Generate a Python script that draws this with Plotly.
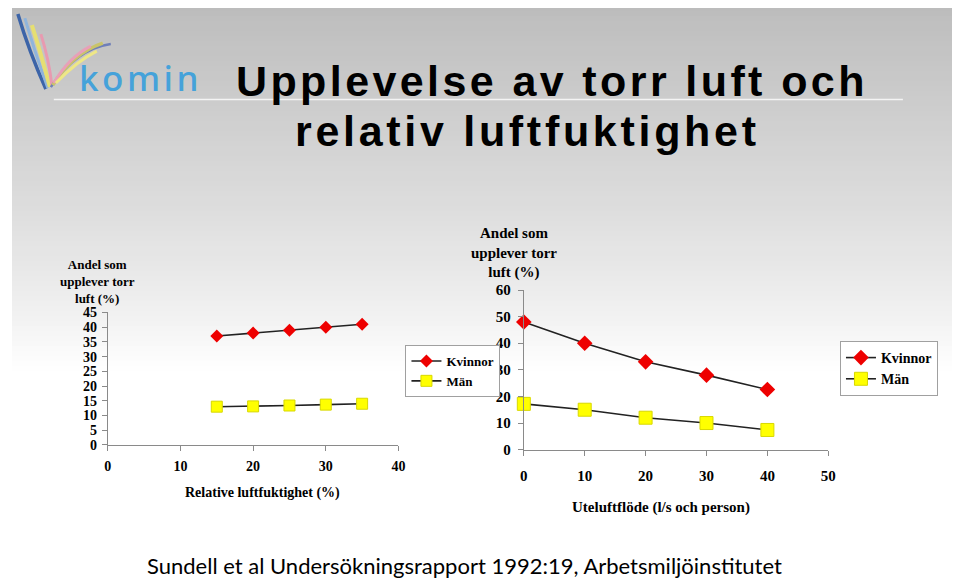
import plotly.graph_objects as go

# ---------------- data ----------------
rh_x = [15, 20, 25, 30, 35]
rh_kvinnor = [37, 38, 39, 40, 41]
rh_man = [13, 13.1, 13.4, 13.7, 14]

flow_x = [0, 10, 20, 30, 40]
flow_kvinnor = [48, 40, 33, 28, 22.6]
flow_man = [17.2, 15, 12, 10, 7.4]

series_names = ["Kvinnor", "Män"]
title_line1 = "Upplevelse av torr luft och"
title_line2 = "relativ luftfuktighet"
left_ytitle = "Andel som<br>upplever torr<br>luft (%)"
left_xtitle = "Relative luftfuktighet (%)"
right_ytitle = "Andel som<br>upplever torr<br>luft (%)"
right_xtitle = "Uteluftflöde (l/s och person)"
footer = "Sundell et al Undersökningsrapport 1992:19, Arbetsmiljöinstitutet"
logo_text = "komin"

# page body has an 8px margin
OFF = 8
W, H = 952, 584
# calibration of the photographed picture vs page pixels
SX, AX = 0.9885, 3.2
SY, AY = 0.973, 7.1
def PX(x):
    return ((x - AX) / SX - OFF) / W
def PY(y):
    return 1 - ((y - AY) / SY - OFF) / H

SERIF = "Liberation Serif, Times New Roman, serif"
RED = "#ee0000"
YEL = "#ffff00"

fig = go.Figure()

# left chart
fig.add_trace(go.Scatter(x=rh_x, y=rh_kvinnor, name=series_names[0], mode="lines+markers",
                         line=dict(color="#222222", width=1.6),
                         marker=dict(symbol="diamond", size=10, color=RED),
                         xaxis="x", yaxis="y", legend="legend", cliponaxis=False))
fig.add_trace(go.Scatter(x=rh_x, y=rh_man, name=series_names[1], mode="lines+markers",
                         line=dict(color="#222222", width=1.6),
                         marker=dict(symbol="square", size=11, color=YEL,
                                     line=dict(color="#d8d800", width=1)),
                         xaxis="x", yaxis="y", legend="legend", cliponaxis=False))
# right chart
fig.add_trace(go.Scatter(x=flow_x, y=flow_kvinnor, name=series_names[0], mode="lines+markers",
                         line=dict(color="#222222", width=1.6),
                         marker=dict(symbol="diamond", size=12, color=RED),
                         xaxis="x2", yaxis="y2", legend="legend2", cliponaxis=False))
fig.add_trace(go.Scatter(x=flow_x, y=flow_man, name=series_names[1], mode="lines+markers",
                         line=dict(color="#222222", width=1.6),
                         marker=dict(symbol="square", size=13, color=YEL,
                                     line=dict(color="#d8d800", width=1)),
                         xaxis="x2", yaxis="y2", legend="legend2", cliponaxis=False))

axis_common = dict(showgrid=False, zeroline=False, showline=True, linecolor="#8a8a8a",
                   linewidth=1.2, ticks="outside", tickcolor="#8a8a8a", ticklen=5,
                   fixedrange=True)

fig.update_layout(
    width=W, height=H, margin=dict(l=0, r=0, t=0, b=0),
    paper_bgcolor="white", plot_bgcolor="rgba(0,0,0,0)",
    showlegend=True,
    xaxis=dict(domain=[PX(107), PX(398)], range=[0, 40], dtick=10, anchor="y",
               tickfont=dict(family=SERIF, size=14, color="black", weight="bold"),
               ticklabelstandoff=3, **axis_common),
    yaxis=dict(domain=[PY(444), PY(311.5)], range=[0, 45], dtick=5, anchor="x",
               tickfont=dict(family=SERIF, size=14, color="black", weight="bold"),
               ticklabelstandoff=2, **axis_common),
    xaxis2=dict(domain=[PX(523.5), PX(828.3)], range=[0, 50], dtick=10, anchor="y2",
                tickfont=dict(family=SERIF, size=15, color="black", weight="bold"),
                ticklabelstandoff=7, **axis_common),
    yaxis2=dict(domain=[PY(448.7), PY(289)], range=[0, 60], dtick=10, anchor="x2",
                tickfont=dict(family=SERIF, size=15, color="black", weight="bold"),
                ticklabelstandoff=4, **axis_common),
    legend=dict(x=PX(405), y=PY(344), xanchor="left", yanchor="top",
                bgcolor="white", bordercolor="#a0a0a0", borderwidth=1,
                font=dict(family=SERIF, size=13, color="black", weight="bold"),
                itemwidth=30, tracegroupgap=2),
    legend2=dict(x=PX(840), y=PY(340), xanchor="left", yanchor="top",
                 bgcolor="white", bordercolor="#a0a0a0", borderwidth=1,
                 font=dict(family=SERIF, size=14, color="black", weight="bold"),
                 itemwidth=30, tracegroupgap=2),
)

# ---------------- background gradient ----------------
shapes = []
def lerp(a, b, t):
    return a + (b - a) * t
stops = [(0, 188), (100, 204), (200, 220), (300, 238), (370, 255), (600, 255)]
for i in range(80):
    y0 = i * 5
    y1 = y0 + 5
    yc = y0 + 2.5
    v = 255
    for (ya, va), (yb, vb) in zip(stops[:-1], stops[1:]):
        if ya <= yc <= yb:
            v = lerp(va, vb, (yc - ya) / (yb - ya))
            break
    v = int(round(v))
    shapes.append(dict(type="rect", xref="paper", yref="paper", layer="below",
                       x0=0, x1=1, y0=PY(y1 + 0.5), y1=min(1, PY(y0)),
                       line=dict(width=0), fillcolor=f"rgb({v},{v},{v})"))

# title separator line
shapes.append(dict(type="line", xref="paper", yref="paper", layer="below",
                   x0=PX(53), x1=PX(903), y0=PY(98.5), y1=PY(98.5),
                   line=dict(color="#f4f4f4", width=1.5)))

# logo strokes
def qpath(p0, c, p1):
    return (f"M {PX(p0[0])},{PY(p0[1])} Q {PX(c[0])},{PY(c[1])} {PX(p1[0])},{PY(p1[1])}")
strokes = [
    ((45, 88), (28, 50), (17, 13), "#3c64a8", 3.5),
    ((47, 87), (33, 48), (24, 17), "#8fb4dc", 3),
    ((49, 86), (40, 52), (31, 24), "#e6df72", 4),
    ((51, 84), (48, 58), (40, 33), "#e89ab0", 3),
    ((50, 86), (75, 48), (110, 43), "#6f7fb8", 2.5),
    ((52, 84), (72, 52), (102, 42), "#c9c46a", 3.5),
    ((53, 82), (68, 56), (90, 45), "#e8a0b8", 3),
    ((55, 82), (76, 60), (96, 50), "#eee786", 3),
]
for p0, c, p1, col, w in strokes:
    shapes.append(dict(type="path", xref="paper", yref="paper", path=qpath(p0, c, p1),
                       line=dict(color=col, width=w)))

fig.update_layout(shapes=shapes)

# ---------------- annotations ----------------
ann = []
ann.append(dict(xref="paper", yref="paper", x=PX(76), y=PY(76), xanchor="left", yanchor="middle",
                text=f'<span style="letter-spacing:3.5px">{logo_text}</span>', showarrow=False,
                font=dict(family="Noto Sans, sans-serif", size=35, color="#45a2da", weight=500)))
ann.append(dict(xref="paper", yref="paper", x=PX(233), y=PY(80), xanchor="left", yanchor="middle",
                text=f'<span style="letter-spacing:3.4px">{title_line1}</span>', showarrow=False,
                font=dict(family="Liberation Sans, Arial, sans-serif",
                          size=43, color="black", weight="bold")))
ann.append(dict(xref="paper", yref="paper", x=PX(292), y=PY(130), xanchor="left", yanchor="middle",
                text=f'<span style="letter-spacing:3.7px">{title_line2}</span>', showarrow=False,
                font=dict(family="Liberation Sans, Arial, sans-serif",
                          size=43, color="black", weight="bold")))
ann.append(dict(xref="paper", yref="paper", x=PX(97), y=PY(280), xanchor="center", yanchor="middle",
                text=left_ytitle, showarrow=False, align="center",
                font=dict(family=SERIF, size=13, color="black", weight="bold")))
ann.append(dict(xref="paper", yref="paper", x=PX(262), y=PY(492), xanchor="center", yanchor="middle",
                text=left_xtitle, showarrow=False,
                font=dict(family=SERIF, size=14, color="black", weight="bold")))
ann.append(dict(xref="paper", yref="paper", x=PX(514), y=PY(252), xanchor="center", yanchor="middle",
                text=right_ytitle, showarrow=False, align="center",
                font=dict(family=SERIF, size=15, color="black", weight="bold")))
ann.append(dict(xref="paper", yref="paper", x=PX(661), y=PY(507), xanchor="center", yanchor="middle",
                text=right_xtitle, showarrow=False,
                font=dict(family=SERIF, size=15, color="black", weight="bold")))
ann.append(dict(xref="paper", yref="paper", x=PX(464), y=PY(565), xanchor="center", yanchor="middle",
                text=footer, showarrow=False,
                font=dict(family="Lato, Open Sans, sans-serif", size=22, color="black")))
fig.update_layout(annotations=ann)

fig.write_html("out.html")
